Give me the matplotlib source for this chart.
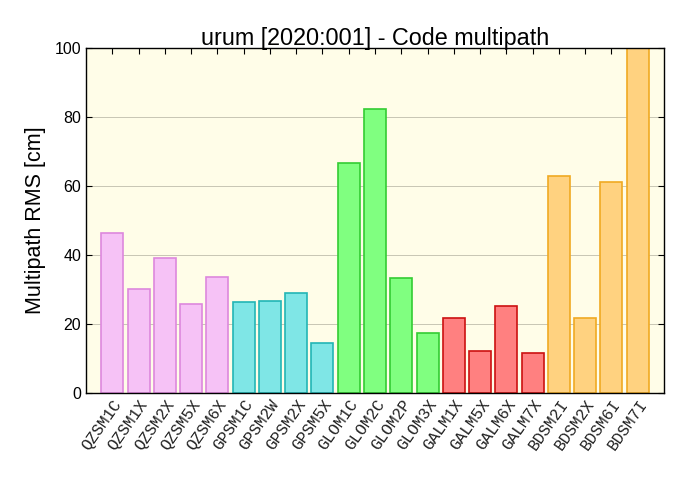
import matplotlib as mpl
mpl.use("Agg")
import matplotlib.pyplot as plt

mpl.rcParams.update({
    "font.family": "sans-serif",
    "font.sans-serif": ["Liberation Sans", "DejaVu Sans"],
})

signals = ["QZSM1C", "QZSM1X", "QZSM2X", "QZSM5X", "QZSM6X",
           "GPSM1C", "GPSM2W", "GPSM2X", "GPSM5X",
           "GLOM1C", "GLOM2C", "GLOM2P", "GLOM3X",
           "GALM1X", "GALM5X", "GALM6X", "GALM7X",
           "BDSM2I", "BDSM2X", "BDSM6I", "BDSM7I"]
rms_cm = [46.3, 30.2, 39.0, 25.8, 33.7,
          26.4, 26.7, 29.1, 14.4,
          66.6, 82.3, 33.4, 17.3,
          21.6, 12.2, 25.2, 11.5,
          62.9, 21.7, 61.1, 100.0]

# fill / edge per constellation
STYLE = {
    "QZS": ("#f6c2f6", "#dd88dd"),
    "GPS": ("#7fe6e6", "#22b5b5"),
    "GLO": ("#80ff80", "#33cc33"),
    "GAL": ("#ff8080", "#cc1111"),
    "BDS": ("#ffd280", "#f0aa22"),
}

fig = plt.figure(figsize=(6.9, 4.92), dpi=100)
ax = fig.add_axes([86 / 690, 99 / 492, 578 / 690, 345 / 492])
ax.set_facecolor("#fffde8")

x = list(range(len(signals)))
for xi, name, val in zip(x, signals, rms_cm):
    fc, ec = STYLE[name[:3]]
    ax.bar(xi, val, width=0.84, color=fc, edgecolor=ec, linewidth=1.2, zorder=3)

ax.set_xlim(-1, len(signals))
ax.set_ylim(0, 100)
ax.set_yticks([0, 20, 40, 60, 80, 100])
ax.set_xticks(x)
ax.set_xticklabels(signals, rotation=55, ha="right", rotation_mode="anchor",
                   family="Liberation Mono", fontsize=15, color="#222222")
ax.yaxis.grid(True, color="#c8c6b4", linewidth=0.7, zorder=0)
ax.set_axisbelow(True)
ax.tick_params(direction="in", length=4, width=0.8, top=True, right=True,
               labelsize=11.5)
ax.tick_params(axis="x", pad=3)
for s in ax.spines.values():
    s.set_linewidth(1.0)
    s.set_zorder(4)

ax.set_ylabel("Multipath RMS [cm]", fontsize=15.5, labelpad=6)
ax.set_title("urum [2020:001] - Code multipath", fontsize=16.8, pad=2)

fig.savefig("out.png", dpi=100)
